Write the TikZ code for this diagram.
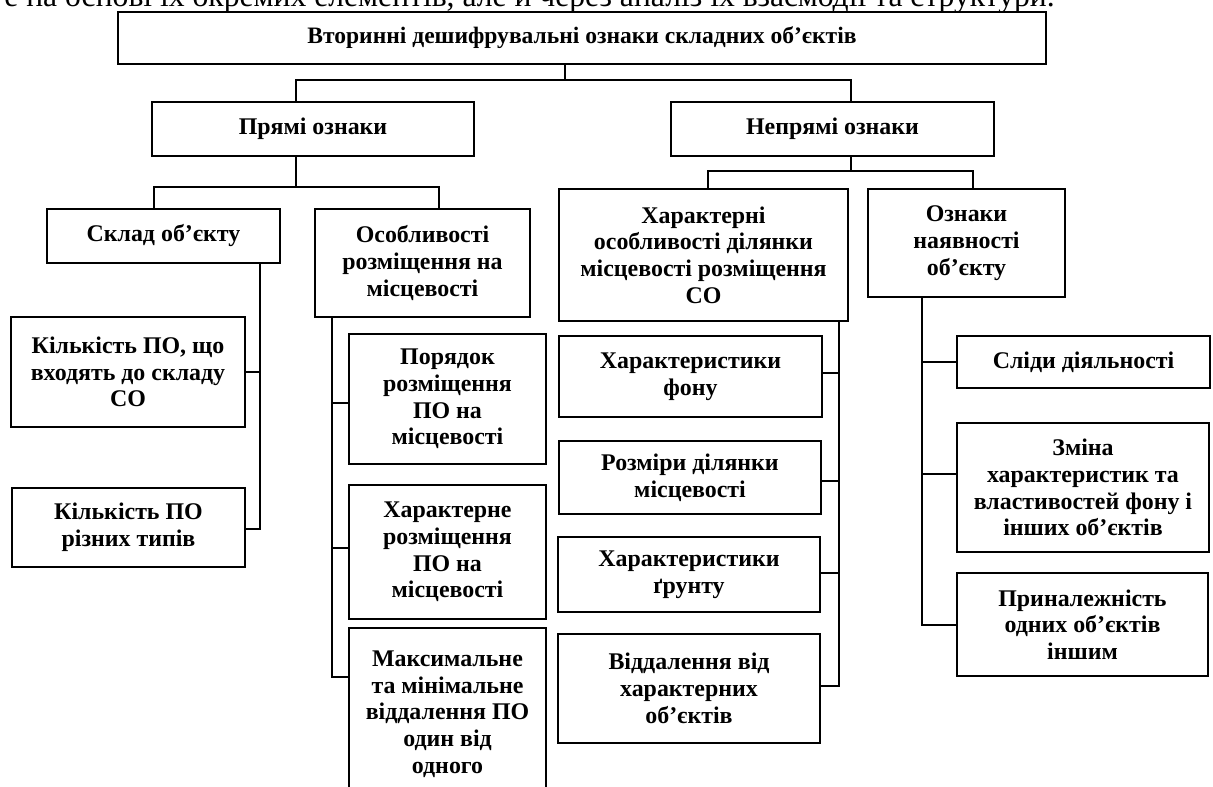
\documentclass[tikz,border=0pt]{standalone}
\usepackage{fontspec}
\setmainfont{Liberation Serif}
\usetikzlibrary{positioning,calc}
\tikzset{
    every node/.style={font=\fontsize{13.6}{15.2}\selectfont\bfseries},
    signblock/.style={
        draw=black, fill=white, line width=1.6pt,
        align=center, sharp corners, inner sep=2pt,
        text=black
    },
    signline/.style={
        line width=1.5pt, color=black
    },
}

\begin{document}
\begin{tikzpicture}[x=0.02cm, y=-0.02cm]
    \useasboundingbox (0,0) rectangle (1213,787);

    % page text above the scheme (cut by the frame)
    \node[font=\fontsize{18}{20}\selectfont, anchor=base east, inner sep=0pt] (intro) at (1055,7)
        {е на основі їх окремих елементів, але й через аналіз їх взаємодії та структури.};

    % Head block
    \node[signblock, minimum width=18.56cm, minimum height=1.04cm, font=\fontsize{13.4}{15}\selectfont\bfseries] (top) at (582,38)
        {Вторинні дешифрувальні ознаки складних об’єктів};

    % Two groups of signs
    \node[signblock, minimum width=6.44cm, minimum height=1.08cm] (pryami) at (313,129) {Прямі ознаки};
    \node[signblock, minimum width=6.46cm, minimum height=1.08cm] (nepryami) at (832.5,129) {Непрямі ознаки};

    % Direct signs
    \node[signblock, minimum width=4.66cm, minimum height=1.08cm] (sklad) at (163.5,236) {Склад об’єкту};
    \node[signblock, minimum width=4.30cm, minimum height=2.16cm] (osob) at (422.5,263)
        {Особливості\\розміщення на\\місцевості};
    \node[signblock, minimum width=4.68cm, minimum height=2.20cm] (kilka) at (128,372)
        {Кількість ПО, що\\входять до складу\\СО};
    \node[signblock, minimum width=4.66cm, minimum height=1.58cm] (kilkb) at (128.5,527.5)
        {Кількість ПО\\різних типів};
    \node[signblock, minimum width=3.94cm, minimum height=2.60cm] (poryadok) at (447.5,399)
        {Порядок\\розміщення\\ПО на\\місцевості};
    \node[signblock, minimum width=3.94cm, minimum height=2.68cm] (xarrozm) at (447.5,552)
        {Характерне\\розміщення\\ПО на\\місцевості};
    \node[signblock, minimum width=3.94cm, minimum height=3.44cm] (maks) at (447.5,714)
        {Максимальне\\та мінімальне\\віддалення ПО\\один від\\одного};

    % Indirect signs
    \node[signblock, minimum width=5.78cm, minimum height=2.64cm] (xar) at (703.5,255)
        {Характерні\\особливості ділянки\\місцевості розміщення\\СО};
    \node[signblock, minimum width=3.94cm, minimum height=2.16cm] (nayav) at (966.5,243)
        {Ознаки\\наявності\\об’єкту};
    \node[signblock, minimum width=5.26cm, minimum height=1.62cm] (fon) at (690.5,376.5)
        {Характеристики\\фону};
    \node[signblock, minimum width=5.24cm, minimum height=1.46cm] (rozm) at (690,477.5)
        {Розміри ділянки\\місцевості};
    \node[signblock, minimum width=5.24cm, minimum height=1.50cm] (grunt) at (689,574.5)
        {Характеристики\\ґрунту};
    \node[signblock, minimum width=5.24cm, minimum height=2.18cm] (viddal) at (689,688.5)
        {Віддалення від\\характерних\\об’єктів};
    \node[signblock, minimum width=5.06cm, minimum height=1.04cm] (slidy) at (1083.5,362)
        {Сліди діяльності};
    \node[signblock, minimum width=5.04cm, minimum height=2.58cm] (zmina) at (1083,487.5)
        {Зміна\\характеристик та\\властивостей фону і\\інших об’єктів};
    \node[signblock, minimum width=5.02cm, minimum height=2.06cm] (prynal) at (1082.5,624.5)
        {Приналежність\\одних об’єктів\\іншим};

    % Head to groups
    \coordinate (busT) at (565,80);
    \coordinate (busTl) at (296,80);
    \coordinate (busTr) at (851,80);
    \draw[signline] (top.south -| busT) -- (busT);
    \draw[signline] (pryami.north -| busTl) -- (busTl) -- (busTr) -- (nepryami.north -| busTr);

    % Direct signs branches
    \coordinate (busP) at (296,187);
    \coordinate (busPl) at (154,187);
    \coordinate (busPr) at (439,187);
    \draw[signline] (pryami.south -| busP) -- (busP);
    \draw[signline] (sklad.north -| busPl) -- (busPl) -- (busPr) -- (osob.north -| busPr);

    % Indirect signs branches
    \coordinate (busN) at (851,171);
    \coordinate (busNl) at (708,171);
    \coordinate (busNr) at (973,171);
    \draw[signline] (nepryami.south -| busN) -- (busN);
    \draw[signline] (xar.north -| busNl) -- (busNl) -- (busNr) -- (nayav.north -| busNr);

    % Object composition
    \coordinate (sk1) at (260,372);
    \coordinate (sk2) at (260,529);
    \draw[signline] (sklad.south -| sk1) -- (sk2) -- (sk2 -| kilkb.east);
    \draw[signline] (sk1) -- (sk1 -| kilka.east);

    % Placement features
    \coordinate (os1) at (332,403);
    \coordinate (os2) at (332,548);
    \coordinate (os3) at (332,677);
    \draw[signline] (osob.south -| os1) -- (os3) -- (os3 -| maks.west);
    \draw[signline] (os1) -- (os1 -| poryadok.west);
    \draw[signline] (os2) -- (os2 -| xarrozm.west);

    % Terrain features
    \coordinate (xa1) at (839,373);
    \coordinate (xa2) at (839,481);
    \coordinate (xa3) at (839,573);
    \coordinate (xa4) at (839,686);
    \draw[signline] (xar.south -| xa1) -- (xa4) -- (xa4 -| viddal.east);
    \draw[signline] (xa1) -- (xa1 -| fon.east);
    \draw[signline] (xa2) -- (xa2 -| rozm.east);
    \draw[signline] (xa3) -- (xa3 -| grunt.east);

    % Presence signs
    \coordinate (na1) at (922,362);
    \coordinate (na2) at (922,474);
    \coordinate (na3) at (922,625);
    \draw[signline] (nayav.south -| na1) -- (na3) -- (na3 -| prynal.west);
    \draw[signline] (na1) -- (na1 -| slidy.west);
    \draw[signline] (na2) -- (na2 -| zmina.west);
\end{tikzpicture}
\end{document}
